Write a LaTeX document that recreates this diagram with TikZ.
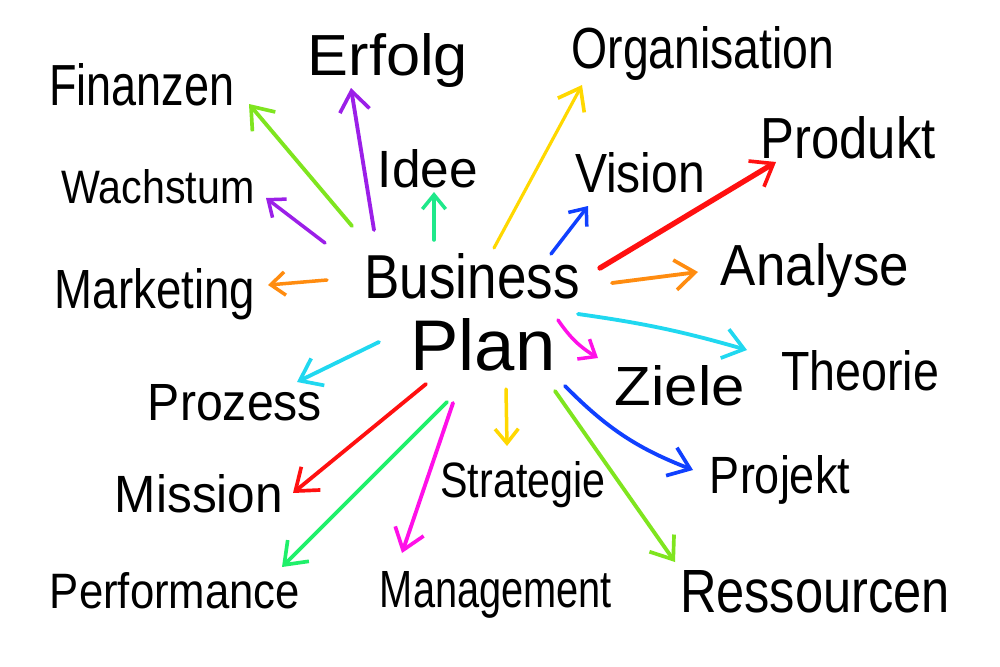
\documentclass[tikz,border=0pt]{standalone}
\usepackage{fontspec}
\setmainfont{Liberation Sans}
\usetikzlibrary{arrows.meta}
\definecolor{clime}{HTML}{7FE51F}
\definecolor{cviolet}{HTML}{9B1FE8}
\definecolor{cspring}{HTML}{1FE88A}
\definecolor{cgreen}{HTML}{1FF06A}
\definecolor{cyellow}{HTML}{FFD800}
\definecolor{cblue}{HTML}{1040FF}
\definecolor{cred}{HTML}{FF1010}
\definecolor{corange}{HTML}{FF8C10}
\definecolor{ccyan}{HTML}{20D8F0}
\definecolor{cmagenta}{HTML}{FF10E8}
% width and height (above baseline) in mm
\newcommand\Wd[3]{\resizebox{#1mm}{#2mm}{#3}}
\tikzset{
  word/.style={inner sep=0pt, text=black, anchor=base},
  arr/.style={line width=1.15mm, line cap=round, line join=round,
    -{Straight Barb[length=6mm,width=9mm,line width=1.1mm]}},
  sarr/.style={line width=1.05mm, line cap=round, line join=round,
    -{Straight Barb[length=4.3mm,width=7mm,line width=1.05mm]}}
}
\begin{document}
\begin{tikzpicture}[x=0.3mm,y=-0.3mm]
\fill[white] (0,0) rectangle (1000,667);
\useasboundingbox (0,0) rectangle (1000,667);
% words (anchored at baseline)
\node[word] (fin) at (142,105) {\Wd{55.5}{12.6}{Finanzen}};
\node[word] (erf) at (388,75) {\Wd{48}{12.6}{Erfolg}};
\node[word] (org) at (703,68) {\Wd{78.9}{12.6}{Organisation}};
\node[word] (pro) at (848,158) {\Wd{52.5}{12.6}{Produkt}};
\node[word] (wac) at (158,203) {\Wd{57.9}{10.2}{Wachstum}};
\node[word] (ide) at (428,187) {\Wd{30}{11.4}{Idee}};
\node[word] (vis) at (640,192) {\Wd{39}{12}{Vision}};
\node[word] (ana) at (815,285) {\Wd{56.4}{12.6}{Analyse}};
\node[word] (mar) at (155,308) {\Wd{60}{12}{Marketing}};
\node[word] (bus) at (472,298) {\Wd{64.5}{13.5}{Business}};
\node[word] (pla) at (483,370) {\Wd{43.5}{15.6}{Plan}};
\node[word] (the) at (860,390) {\Wd{47.4}{12}{Theorie}};
\node[word] (prz) at (235,420) {\Wd{52.2}{10.8}{Prozess}};
\node[word] (zie) at (680,405) {\Wd{39}{12}{Ziele}};
\node[word] (str) at (523,497) {\Wd{49.5}{10.8}{Strategie}};
\node[word] (prj) at (780,493) {\Wd{42}{11.4}{Projekt}};
\node[word] (mis) at (199,512) {\Wd{50.4}{11.4}{Mission}};
\node[word] (per) at (175,608) {\Wd{75}{10.8}{Performance}};
\node[word] (man) at (496,607) {\Wd{69.6}{10.8}{Management}};
\node[word] (res) at (815,612) {\Wd{81}{12.6}{Ressourcen}};
% arrow end points
\coordinate (s1) at (352,226); \coordinate (e1) at (249,104);
\coordinate (s2) at (374,230); \coordinate (e2) at (351,88);
\coordinate (s3) at (434,240); \coordinate (e3) at (434,192);
\coordinate (s4) at (494,248); \coordinate (e4) at (582,85);
\coordinate (s5) at (551,254); \coordinate (e5) at (588,206);
\coordinate (s6) at (600,268); \coordinate (e6) at (776,162);
\coordinate (s7) at (612,283); \coordinate (e7) at (698,272);
\coordinate (s8) at (325,243); \coordinate (e8) at (266,198);
\coordinate (s9) at (327,280); \coordinate (e9) at (268,285);
\coordinate (s10) at (578,314); \coordinate (e10) at (747,350);
\coordinate (s11) at (558,320); \coordinate (e11) at (598,358);
\coordinate (s12) at (379,342); \coordinate (e12) at (297,382);
\coordinate (s13) at (565,386); \coordinate (e13) at (693,470);
\coordinate (s14) at (506,389); \coordinate (e14) at (507,446);
\coordinate (s15) at (426,384); \coordinate (e15) at (293,493);
\coordinate (s16) at (555,391); \coordinate (e16) at (675,562);
\coordinate (s17) at (453,403); \coordinate (e17) at (402,553);
\coordinate (s18) at (447,402); \coordinate (e18) at (282,567);
% arrows
\draw[arr, clime] (s1) -- (e1);
\draw[arr, cviolet] (s2) -- (e2);
\draw[sarr, cspring] (s3) -- (e3);
\draw[arr, cyellow, line width=0.95mm] (s4) -- (e4);
\draw[sarr, cblue] (s5) -- (e5);
\draw[arr, cred, line width=1.6mm] (s6) -- (e6);
\draw[arr, corange] (s7) -- (e7);
\draw[sarr, cviolet] (s8) -- (e8);
\draw[sarr, corange] (s9) -- (e9);
\draw[arr, ccyan] (s10) to[bend left=4] (e10);
\draw[sarr, cmagenta] (s11) to[bend right=12] (e11);
\draw[arr, ccyan] (s12) -- (e12);
\draw[arr, cblue] (s13) to[bend right=12] (e13);
\draw[sarr, cyellow] (s14) -- (e14);
\draw[arr, cred] (s15) -- (e15);
\draw[arr, clime] (s16) -- (e16);
\draw[arr, cmagenta] (s17) -- (e17);
\draw[arr, cgreen] (s18) -- (e18);
\end{tikzpicture}
\end{document}
